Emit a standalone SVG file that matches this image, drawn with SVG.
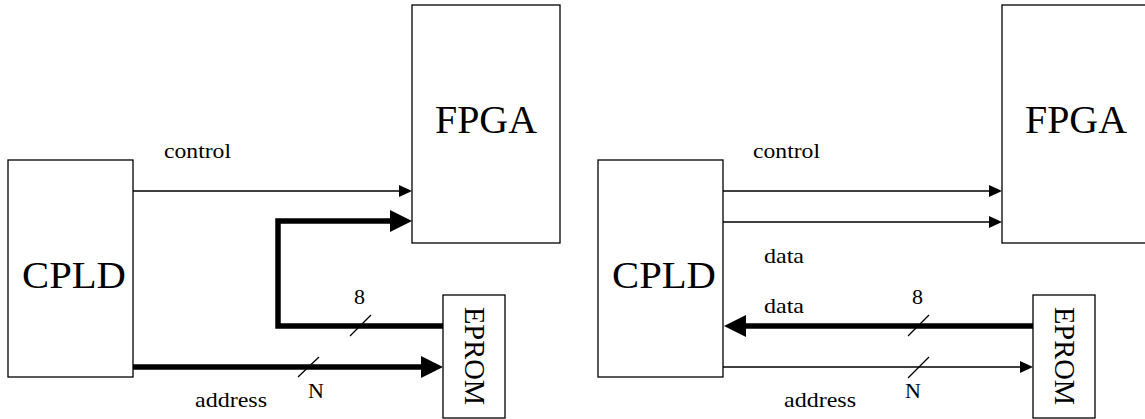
<svg xmlns="http://www.w3.org/2000/svg" width="1145" height="419" viewBox="0 0 1145 419">
<style>
.box{fill:#fff;stroke:#000;stroke-width:1.3}
.big{font-family:"Liberation Serif",serif;font-size:38px;fill:#000}
.ep{font-family:"Liberation Serif",serif;font-size:28.5px;fill:#000}
.lbl{font-family:"Liberation Serif",serif;font-size:22px;fill:#000}
.thin{fill:none;stroke:#000;stroke-width:1.3}
.thick{fill:none;stroke:#000;stroke-width:5.5}
.ah{fill:#000;stroke:none}
</style>
<rect width="1145" height="419" fill="#fff"/>
<g id="connectors">
<line class="thin" x1="133" y1="191" x2="400" y2="191"/>
<polygon class="ah" points="399,185 412,191 399,197"/>
<polyline class="thick" points="443,326 278,326 278,221 392,221"/>
<polygon class="ah" points="390,210 412,221 390,232"/>
<line class="thick" x1="133" y1="367" x2="423" y2="367"/>
<polygon class="ah" points="421,356 443,367 421,378"/>
<line class="thin" x1="350" y1="336" x2="371" y2="315"/>
<line class="thin" x1="298" y1="377" x2="319" y2="357"/>
<line class="thin" x1="723" y1="191" x2="990" y2="191"/>
<polygon class="ah" points="989,185 1002,191 989,197"/>
<line class="thin" x1="723" y1="222" x2="990" y2="222"/>
<polygon class="ah" points="989,216 1002,222 989,228"/>
<line class="thick" x1="1033" y1="326" x2="744" y2="326"/>
<polygon class="ah" points="746,315 724,326 746,337"/>
<line class="thin" x1="723" y1="367" x2="1021" y2="367"/>
<polygon class="ah" points="1020,361 1033,367 1020,373"/>
<line class="thin" x1="908" y1="336" x2="929" y2="315"/>
<line class="thin" x1="908" y1="378" x2="929" y2="357"/>
</g>
<g id="labels">
<text class="lbl" x="164" y="158" textLength="67" lengthAdjust="spacingAndGlyphs">control</text>
<text class="lbl" x="354" y="304">8</text>
<text class="lbl" x="308" y="398">N</text>
<text class="lbl" x="195" y="407" textLength="72" lengthAdjust="spacingAndGlyphs">address</text>
<text class="lbl" x="753" y="158" textLength="67" lengthAdjust="spacingAndGlyphs">control</text>
<text class="lbl" x="764" y="263" textLength="40" lengthAdjust="spacingAndGlyphs">data</text>
<text class="lbl" x="764" y="313" textLength="40" lengthAdjust="spacingAndGlyphs">data</text>
<text class="lbl" x="912" y="304">8</text>
<text class="lbl" x="905" y="398">N</text>
<text class="lbl" x="784" y="407" textLength="72" lengthAdjust="spacingAndGlyphs">address</text>
</g>
<g id="cpld-left">
<rect class="box" x="8" y="160" width="125" height="217"/>
<text class="big" x="22" y="288" textLength="104" lengthAdjust="spacingAndGlyphs">CPLD</text>
</g>
<g id="fpga-left">
<rect class="box" x="412" y="5" width="148" height="238"/>
<text class="big" style="font-size:39px" x="435" y="133" textLength="102" lengthAdjust="spacingAndGlyphs">FPGA</text>
</g>
<g id="eprom-left">
<rect class="box" x="443" y="295" width="62" height="123"/>
<text class="ep" transform="translate(465,356) rotate(90)" text-anchor="middle">EPROM</text>
</g>
<g id="cpld-right">
<rect class="box" x="598" y="160" width="125" height="217"/>
<text class="big" x="612" y="288" textLength="104" lengthAdjust="spacingAndGlyphs">CPLD</text>
</g>
<g id="fpga-right">
<rect class="box" x="1002" y="5" width="150" height="238"/>
<text class="big" style="font-size:39px" x="1025" y="133" textLength="102" lengthAdjust="spacingAndGlyphs">FPGA</text>
</g>
<g id="eprom-right">
<rect class="box" x="1033" y="295" width="62" height="123"/>
<text class="ep" transform="translate(1055,356) rotate(90)" text-anchor="middle">EPROM</text>
</g>
</svg>
